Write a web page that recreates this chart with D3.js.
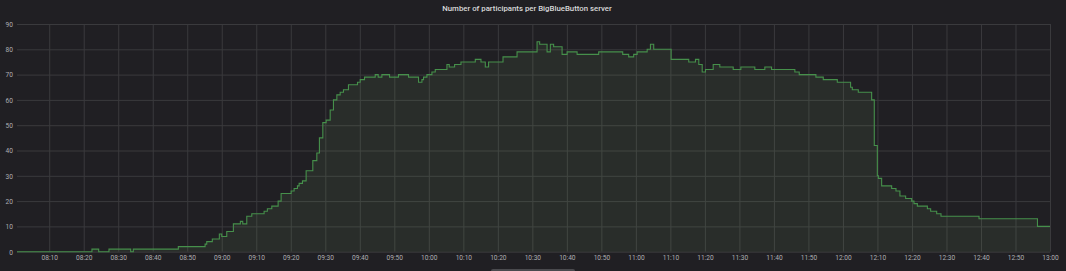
<!DOCTYPE html>
<html lang="en">
<head>
    <meta charset="utf-8" />
    <title>Number of participants per BigBlueButton server</title>
    <script src="https://cdnjs.cloudflare.com/ajax/libs/d3/7.8.5/d3.min.js"></script>
    <style>
        html, body { margin: 0; padding: 0; background: #201f23; }
        svg { display: block; }
        .tick text { fill: #aeaeb2; font-family: Roboto, "Noto Sans", sans-serif; font-size: 6.6px; }
    </style>
</head>
<body>
    <div id="vis"></div>
    <script type="text/javascript">
        var chartTitle = "Number of participants per BigBlueButton server";

        // sample times (step changes) and participant counts
        var times = ["08:00:40", "08:22:23", "08:24:20", "08:27:19", "08:33:37", "08:34:22", "08:47:25",
            "08:55:10", "08:55:39", "08:57:16", "08:59:18", "09:00:00", "09:01:27", "09:03:22", "09:05:24",
            "09:06:05", "09:07:15", "09:08:42", "09:12:16", "09:13:13", "09:14:30", "09:16:20", "09:17:12",
            "09:20:06", "09:20:58", "09:21:56", "09:22:25", "09:23:23", "09:24:27", "09:26:23", "09:27:33",
            "09:28:18", "09:29:17", "09:30:15", "09:31:25", "09:32:22", "09:33:21", "09:34:19", "09:35:16",
            "09:36:43", "09:39:20", "09:40:07", "09:41:22", "09:44:28", "09:45:20", "09:46:24", "09:48:37",
            "09:51:13", "09:54:07", "09:57:01", "09:58:00", "09:58:28", "09:59:27", "10:00:54", "10:01:52",
            "10:05:15", "10:05:55", "10:07:28", "10:09:19", "10:13:28", "10:15:07", "10:16:22", "10:17:19",
            "10:21:30", "10:25:34", "10:31:22", "10:32:07", "10:34:16", "10:35:13", "10:36:10", "10:38:37",
            "10:40:04", "10:42:58", "10:49:13", "10:56:11", "10:57:55", "10:59:22", "11:00:22", "11:03:16",
            "11:04:13", "11:05:10", "11:10:13", "11:15:19", "11:17:16", "11:18:14", "11:19:13", "11:20:10",
            "11:22:24", "11:24:19", "11:28:12", "11:30:25", "11:34:28", "11:37:22", "11:39:19", "11:46:04",
            "11:47:20", "11:52:10", "11:54:18", "11:58:22", "12:02:13", "12:02:43", "12:04:27", "12:08:19",
            "12:09:05", "12:09:58", "12:10:16", "12:11:13", "12:14:07", "12:15:22", "12:16:31", "12:18:10",
            "12:19:55", "12:20:35", "12:21:34", "12:24:28", "12:25:25", "12:27:10", "12:28:25", "12:39:26",
            "12:56:22", "13:00:00"];
        var participants = [0, 1, 0, 1, 0, 1, 2,
            3, 4, 5, 7, 6, 8, 11, 12,
            11, 14, 15, 16, 17, 18, 20, 23,
            24, 25, 26, 27, 28, 32, 36, 39,
            45, 51, 52, 56, 60, 62, 63, 64,
            66, 67, 68, 69, 70, 69, 70, 69,
            70, 69, 67, 68, 69, 70, 71, 72,
            74, 73, 74, 75, 76, 75, 73, 75,
            77, 79, 83, 82, 79, 82, 81, 78,
            79, 78, 79, 78, 77, 78, 79, 80,
            82, 80, 76, 75, 76, 74, 71, 72,
            74, 73, 72, 73, 72, 73, 72, 71,
            70, 69, 68, 67, 65, 64, 63, 60,
            42, 30, 29, 26, 25, 24, 22, 21,
            20, 19, 18, 17, 16, 15, 14, 13,
            10, 10];

        var yTicks = [0, 10, 20, 30, 40, 50, 60, 70, 80, 90];
        var xTickStart = "08:10", xTickEnd = "13:00";

        var width = 1066, height = 271;
        var margin = { left: 17, right: 16, top: 24, bottom: 19.3 };
        var parse = d3.timeParse("%H:%M:%S");
        var data = times.map(function (t, i) { return { t: parse(t), v: participants[i] }; });

        var x = d3.scaleTime()
            .domain([data[0].t, data[data.length - 1].t])
            .range([margin.left, width - margin.right]);
        var y = d3.scaleLinear()
            .domain([0, 90])
            .range([height - margin.bottom, margin.top]);

        var svg = d3.select("#vis").append("svg")
            .attr("width", width)
            .attr("height", height);

        svg.append("rect").attr("width", width).attr("height", height).attr("fill", "#201f23");

        var xTickValues = d3.timeMinute.every(10).range(parse(xTickStart + ":00"), d3.timeSecond.offset(parse(xTickEnd + ":00"), 1));

        var xAxis = svg.append("g")
            .attr("transform", "translate(0," + y(0) + ")")
            .call(d3.axisBottom(x)
                .tickValues(xTickValues)
                .tickFormat(d3.timeFormat("%H:%M"))
                .tickSize(-(y(0) - y(90)))
                .tickPadding(5));
        var yAxis = svg.append("g")
            .attr("transform", "translate(" + margin.left + ",0)")
            .call(d3.axisLeft(y)
                .tickValues(yTicks)
                .tickSize(-(width - margin.right - margin.left))
                .tickPadding(4));

        [xAxis, yAxis].forEach(function (g) {
            g.select(".domain").remove();
            g.selectAll(".tick line").attr("stroke", "#3a3a3d").attr("stroke-width", 1);
        });
        xAxis.selectAll(".tick text").attr("dy", "0.55em");
        yAxis.selectAll(".tick text").attr("dy", "0.35em");

        var area = d3.area()
            .curve(d3.curveStepAfter)
            .x(function (d) { return x(d.t); })
            .y0(y(0))
            .y1(function (d) { return y(d.v); });
        var line = d3.line()
            .curve(d3.curveStepAfter)
            .x(function (d) { return x(d.t); })
            .y(function (d) { return y(d.v); });

        svg.append("path").datum(data)
            .attr("d", area)
            .attr("fill", "rgba(126,178,109,0.1)");
        svg.append("path").datum(data)
            .attr("d", line)
            .attr("fill", "none")
            .attr("stroke", "#46904b")
            .attr("stroke-width", 1.1);

        svg.append("text")
            .attr("x", 527)
            .attr("y", 11)
            .attr("text-anchor", "middle")
            .attr("fill", "#d8d9da")
            .attr("font-family", "Roboto, 'Noto Sans', sans-serif")
            .attr("font-weight", 500)
            .attr("font-size", "7.8px")
            .text(chartTitle);

        // little scroll handle under the time axis
        svg.append("rect")
            .attr("x", 491).attr("y", 269)
            .attr("width", 84).attr("height", 4)
            .attr("rx", 2)
            .attr("fill", "#4a4a4e");
    </script>
</body>
</html>
